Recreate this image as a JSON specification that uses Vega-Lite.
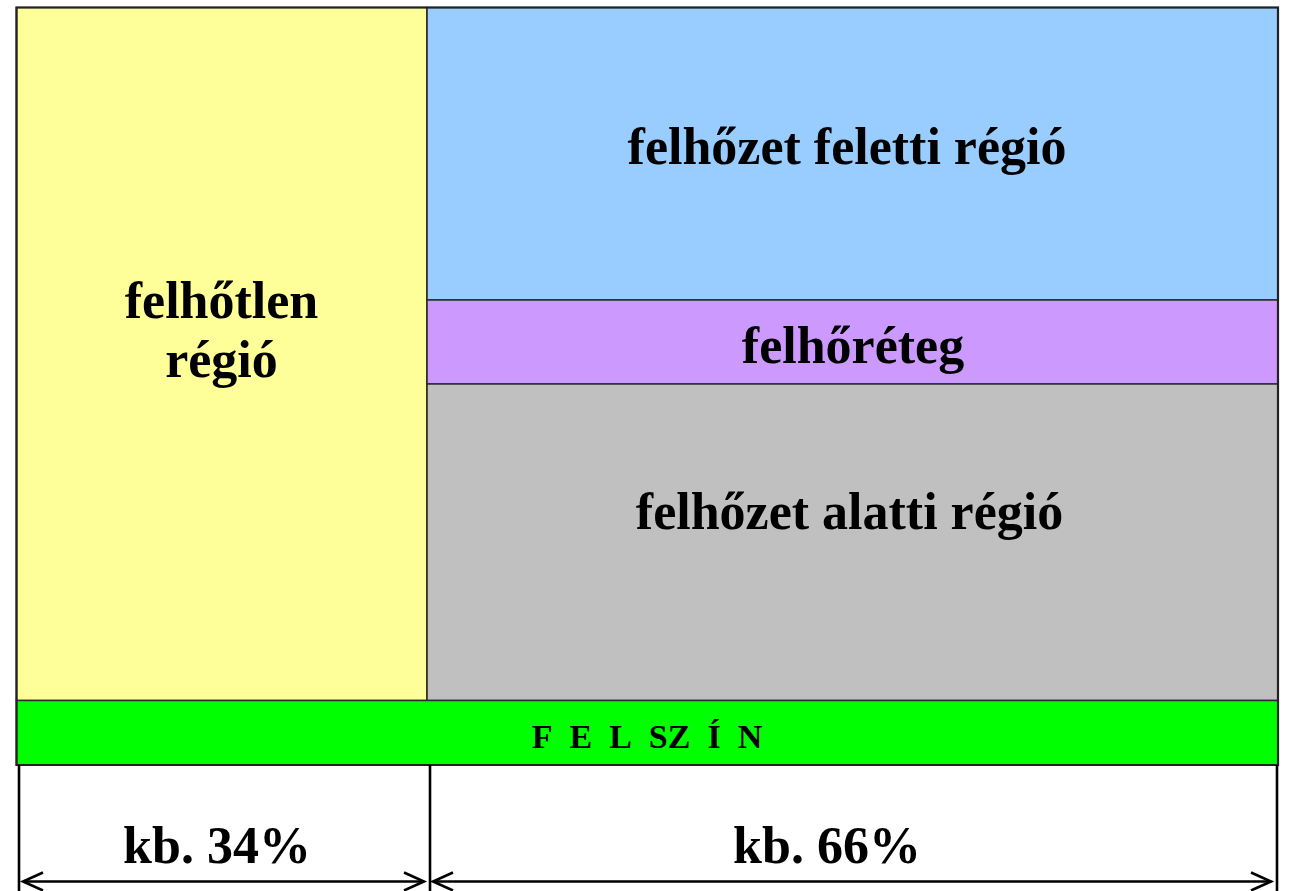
{
  "$schema": "https://vega.github.io/schema/vega-lite/v6.json",
  "width": 1290,
  "height": 891,
  "padding": 0,
  "autosize": {"type": "none"},
  "background": "white",
  "config": {"view": {"stroke": null}},
  "datasets": {
    "regions": [
      {"region": "felhőtlen régió", "x0": 16.5, "x1": 427, "y0": 7.5, "y1": 700.5},
      {"region": "felhőzet feletti régió", "x0": 427, "x1": 1278, "y0": 7.5, "y1": 300},
      {"region": "felhőréteg", "x0": 427, "x1": 1278, "y0": 300, "y1": 384},
      {"region": "felhőzet alatti régió", "x0": 427, "x1": 1278, "y0": 384, "y1": 700.5},
      {"region": "felszín", "x0": 16.5, "x1": 1278, "y0": 700.5, "y1": 765}
    ],
    "labels": [
      {"label": "felhőtlen\nrégió", "x": 221.5, "y": 318, "kind": "big"},
      {"label": "felhőzet feletti régió", "x": 847, "y": 164, "kind": "big"},
      {"label": "felhőréteg", "x": 853, "y": 363, "kind": "big"},
      {"label": "felhőzet alatti régió", "x": 849.5, "y": 529, "kind": "big"},
      {"label": "F\u00a0\u00a0E\u00a0\u00a0L\u00a0\u00a0SZ\u00a0\u00a0Í\u00a0\u00a0N", "x": 647, "y": 748, "kind": "small"},
      {"label": "kb. 34%", "x": 217, "y": 863, "kind": "big"},
      {"label": "kb. 66%", "x": 827, "y": 863, "kind": "big"}
    ],
    "lines": [
      {"x0": 19, "x1": 19, "y0": 765, "y1": 891},
      {"x0": 430, "x1": 430, "y0": 765, "y1": 891},
      {"x0": 1277, "x1": 1277, "y0": 765, "y1": 891},
      {"x0": 23, "x1": 424, "y0": 881.5, "y1": 881.5},
      {"x0": 433, "x1": 1271, "y0": 881.5, "y1": 881.5}
    ],
    "heads": [
      {"x": 23, "y": 881.5, "dir": "left"},
      {"x": 424, "y": 881.5, "dir": "right"},
      {"x": 433, "y": 881.5, "dir": "left"},
      {"x": 1271, "y": 881.5, "dir": "right"}
    ]
  },
  "layer": [
    {
      "data": {"name": "regions"},
      "mark": {"type": "rect", "stroke": "#2b2b2b", "strokeWidth": 1.6},
      "encoding": {
        "x": {"field": "x0", "type": "quantitative", "scale": {"domain": [0, 1290], "nice": false, "zero": false}, "axis": null},
        "x2": {"field": "x1"},
        "y": {"field": "y0", "type": "quantitative", "scale": {"domain": [0, 891], "nice": false, "zero": false, "reverse": true}, "axis": null},
        "y2": {"field": "y1"},
        "color": {
          "field": "region", "type": "nominal", "legend": null,
          "scale": {
            "domain": ["felhőtlen régió", "felhőzet feletti régió", "felhőréteg", "felhőzet alatti régió", "felszín"],
            "range": ["#FFFF99", "#99CCFF", "#CC99FF", "#C0C0C0", "#00FF00"]
          }
        }
      }
    },
    {
      "data": {"name": "regions"},
      "transform": [{"aggregate": [{"op": "min", "field": "x0", "as": "x0"}, {"op": "max", "field": "x1", "as": "x1"}, {"op": "min", "field": "y0", "as": "y0"}, {"op": "max", "field": "y1", "as": "y1"}]}],
      "mark": {"type": "rect", "fill": null, "stroke": "#222222", "strokeWidth": 2.2},
      "encoding": {
        "x": {"field": "x0", "type": "quantitative"},
        "x2": {"field": "x1"},
        "y": {"field": "y0", "type": "quantitative"},
        "y2": {"field": "y1"}
      }
    },
    {
      "data": {"name": "lines"},
      "mark": {"type": "rule", "color": "#000000", "strokeWidth": 2.6},
      "encoding": {
        "x": {"field": "x0", "type": "quantitative"},
        "x2": {"field": "x1"},
        "y": {"field": "y0", "type": "quantitative"},
        "y2": {"field": "y1"}
      }
    },
    {
      "data": {"name": "heads"},
      "mark": {"type": "point", "filled": false, "color": "#000000", "strokeWidth": 2.6, "size": 400, "opacity": 1},
      "encoding": {
        "x": {"field": "x", "type": "quantitative"},
        "y": {"field": "y", "type": "quantitative"},
        "shape": {
          "field": "dir", "type": "nominal", "legend": null,
          "scale": {"domain": ["left", "right"], "range": ["M 2 -0.9 L 0 0 L 2 0.9", "M -2 -0.9 L 0 0 L -2 0.9"]}
        }
      }
    },
    {
      "data": {"name": "labels"},
      "mark": {"type": "text", "font": "Liberation Serif", "fontWeight": "bold", "align": "center", "baseline": "alphabetic", "lineBreak": "\n", "lineHeight": 59, "color": "#000000"},
      "encoding": {
        "x": {"field": "x", "type": "quantitative"},
        "y": {"field": "y", "type": "quantitative"},
        "text": {"field": "label"},
        "size": {"field": "kind", "type": "nominal", "legend": null, "scale": {"domain": ["big", "small"], "range": [52, 34]}}
      }
    }
  ]
}
